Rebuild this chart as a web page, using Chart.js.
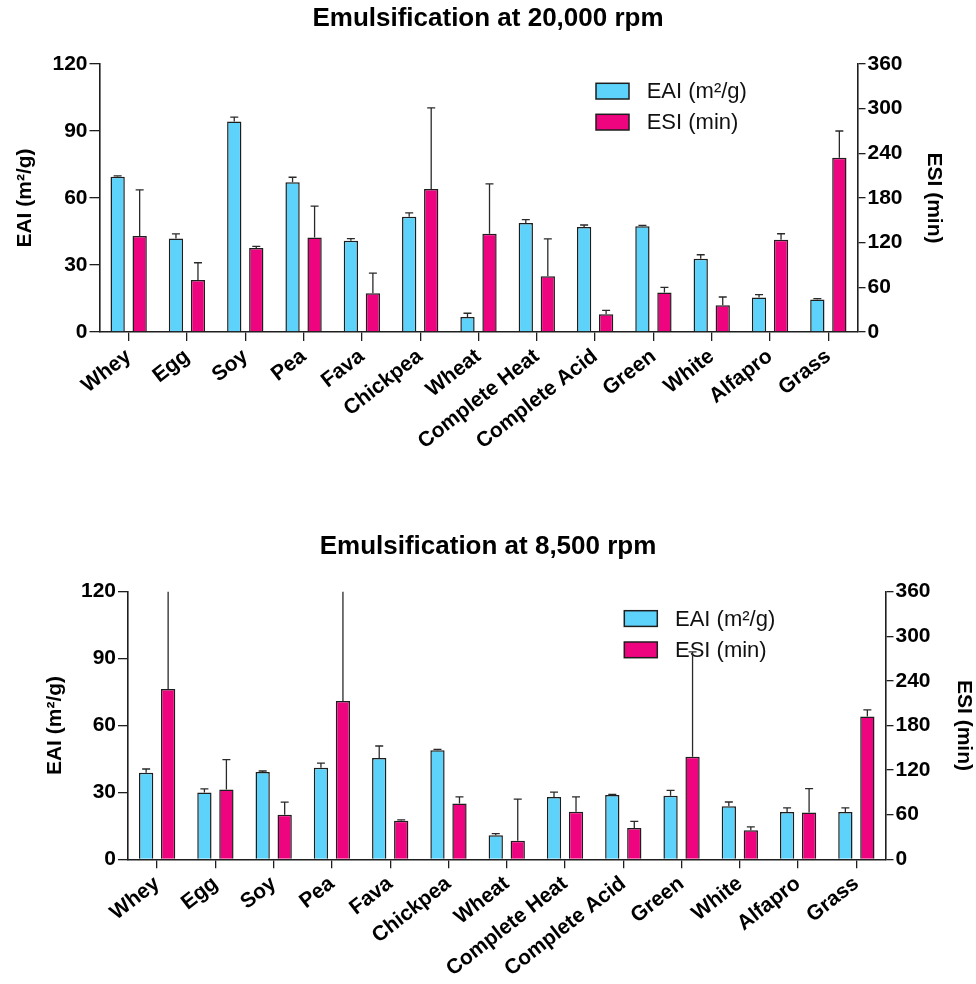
<!DOCTYPE html>
<html>
<head>
<meta charset="utf-8">
<script src="https://cdn.jsdelivr.net/npm/chart.js@4/dist/chart.umd.min.js"></script>
<style>
  html, body { margin: 0; padding: 0; background: #fff; }
  #wrap { position: relative; width: 976px; height: 984px; overflow: hidden; }
  canvas { position: absolute; left: 0; }
  #c1 { top: 0; }
  #c2 { top: 500px; }
</style>
</head>
<body>
<div id="wrap">
  <canvas id="c1" width="976" height="500"></canvas>
  <canvas id="c2" width="976" height="484"></canvas>
</div>
<script>
// ---------- data ----------
const categories = ['Whey', 'Egg', 'Soy', 'Pea', 'Fava', 'Chickpea', 'Wheat', 'Complete Heat', 'Complete Acid', 'Green', 'White', 'Alfapro', 'Grass'];

const eaiTicks = [0, 30, 60, 90, 120];
const esiTicks = [0, 60, 120, 180, 240, 300, 360];

// 20,000 rpm
const eai20    = [69.5, 41.9, 94.2, 67.0, 40.9, 51.6, 6.7, 48.8, 47.0, 47.3, 32.8, 15.5, 14.5];
const eai20Err = [0.4, 2.0, 2.0, 2.3, 0.9, 1.7, 1.7, 1.5, 0.9, 0.4, 1.8, 1.2, 0.4];
const esi20    = [129, 70, 113, 127, 52, 192, 132, 75, 24, 53, 36, 124, 234];
const esi20Err = [62, 23, 2, 42, 27, 109, 67, 50, 5, 7, 11, 8, 36];

// 8,500 rpm
const eai85    = [38.8, 30.0, 39.2, 41.1, 45.4, 48.9, 10.8, 27.9, 28.8, 28.5, 23.8, 21.2, 21.2];
const eai85Err = [1.7, 1.6, 0.4, 2.0, 5.4, 0.4, 0.7, 2.2, 0.3, 2.4, 1.9, 1.9, 1.9];
const esi85    = [229, 94, 60, 213, 52, 75, 25, 64, 42, 138, 39, 63, 192];
const esi85Err = [135, 40, 17, 150, 1, 9, 56, 20, 9, 141, 4.5, 32, 9];

const eaiLabel = 'EAI (m²/g)';
const esiLabel = 'ESI (min)';
const titles = ['Emulsification at 20,000 rpm', 'Emulsification at 8,500 rpm'];

// ---------- styling ----------
const FONT = '"Liberation Sans", Arial, Helvetica, sans-serif';
Chart.defaults.font.family = FONT;
Chart.defaults.color = '#000';
const BLUE = '#5DD3FB';
const PINK = '#EE047F';
const INK = '#1e1e1e';

const errorBars = {
  id: 'errorBars',
  afterDatasetsDraw(chart) {
    const ctx = chart.ctx, a = chart.chartArea;
    ctx.save();
    ctx.beginPath();
    ctx.rect(a.left - 10, a.top, a.right - a.left + 20, a.bottom - a.top);
    ctx.clip();
    ctx.strokeStyle = '#2a2a2a';
    ctx.lineWidth = 1.3;
    chart.data.datasets.forEach((ds, i) => {
      const meta = chart.getDatasetMeta(i);
      const scale = chart.scales[ds.yAxisID];
      meta.data.forEach((bar, j) => {
        const yTop = scale.getPixelForValue(ds.data[j] + ds.errors[j]);
        ctx.beginPath();
        ctx.moveTo(bar.x, bar.y);
        ctx.lineTo(bar.x, yTop);
        ctx.moveTo(bar.x - 4, yTop);
        ctx.lineTo(bar.x + 4, yTop);
        ctx.stroke();
      });
    });
    ctx.restore();
  }
};

const boxLegend = {
  id: 'boxLegend',
  beforeDatasetsDraw(chart, args, o) {
    const ctx = chart.ctx;
    ctx.save();
    chart.data.datasets.forEach((ds, i) => {
      const y = o.y + i * o.gap;
      ctx.fillStyle = ds.backgroundColor;
      ctx.fillRect(o.x, y, o.w, o.h);
      ctx.strokeStyle = INK;
      ctx.lineWidth = 1.5;
      ctx.strokeRect(o.x, y, o.w, o.h);
      ctx.fillStyle = '#111';
      ctx.font = '22px ' + FONT;
      ctx.textBaseline = 'middle';
      ctx.textAlign = 'left';
      ctx.fillText(ds.label, o.textX, y + o.h / 2 + 1);
    });
    ctx.restore();
  }
};

function makeChart(id, title, eai, eaiErr, esi, esiErr, g) {
  return new Chart(document.getElementById(id), {
    type: 'bar',
    data: {
      labels: categories,
      datasets: [
        { label: eaiLabel, data: eai, errors: eaiErr, yAxisID: 'y',
          backgroundColor: BLUE, borderColor: INK, borderWidth: 1.5,
          categoryPercentage: 0.755, barPercentage: 0.65 },
        { label: esiLabel, data: esi, errors: esiErr, yAxisID: 'y1',
          backgroundColor: PINK, borderColor: INK, borderWidth: 1.5,
          categoryPercentage: 0.755, barPercentage: 0.65 }
      ]
    },
    options: {
      responsive: false,
      animation: false,
      layout: { padding: 0 },
      plugins: {
        legend: { display: false },
        tooltip: { enabled: false },
        title: {
          display: true, text: title, color: '#000',
          font: { size: 26, weight: 'bold' },
          padding: { top: g.titleTop, bottom: g.titleBottom }
        },
        boxLegend: g.legend
      },
      scales: {
        x: {
          afterFit: s => { s.height = g.xHeight; },
          grid: { display: true, drawOnChartArea: false, offset: false, color: INK, lineWidth: 1.3, tickLength: 9 },
          border: { display: true, color: INK, width: 1.6 },
          ticks: { autoSkip: false, minRotation: 38, maxRotation: 38, padding: 3, color: '#000',
                   font: { size: 21, weight: 'bold' } }
        },
        y: {
          position: 'left', min: 0, max: 120,
          afterFit: s => { s.width = g.left; },
          afterBuildTicks: s => { s.ticks = eaiTicks.map(v => ({ value: v })); },
          grid: { display: true, drawOnChartArea: false, color: INK, lineWidth: 1.3, tickLength: 10 },
          border: { display: true, color: INK, width: 1.6 },
          ticks: { padding: 2, color: '#000', font: { size: 21, weight: 'bold' } },
          title: { display: true, text: eaiLabel, color: '#000', font: { size: 21, weight: 'bold' },
                   padding: { top: g.ltPad, bottom: 0 } }
        },
        y1: {
          position: 'right', min: 0, max: 360,
          afterFit: s => { s.width = g.right; },
          afterBuildTicks: s => { s.ticks = esiTicks.map(v => ({ value: v })); },
          grid: { display: true, drawOnChartArea: false, color: INK, lineWidth: 1.3, tickLength: 8 },
          border: { display: true, color: INK, width: 1.6 },
          ticks: { padding: 2, color: '#000', font: { size: 21, weight: 'bold' } },
          title: { display: true, text: esiLabel, color: '#000', font: { size: 21, weight: 'bold' },
                   padding: { top: g.rtPad, bottom: 0 } }
        }
      }
    },
    plugins: [boxLegend, errorBars]
  });
}

makeChart('c1', titles[0], eai20, eai20Err, esi20, esi20Err, {
  titleTop: 3, titleBottom: 29.8, xHeight: 168, left: 99.5, right: 118.5,
  ltPad: 13, rtPad: 30,
  legend: { x: 596, y: 83.3, w: 33, h: 15.7, gap: 31, textX: 646.7 }
});

makeChart('c2', titles[1], eai85, eai85Err, esi85, esi85Err, {
  titleTop: 31, titleBottom: 29.5, xHeight: 124.7, left: 128, right: 90.5,
  ltPad: 43, rtPad: 0,
  legend: { x: 624.3, y: 110.7, w: 33, h: 15.7, gap: 31.3, textX: 675 }
});
</script>
</body>
</html>
